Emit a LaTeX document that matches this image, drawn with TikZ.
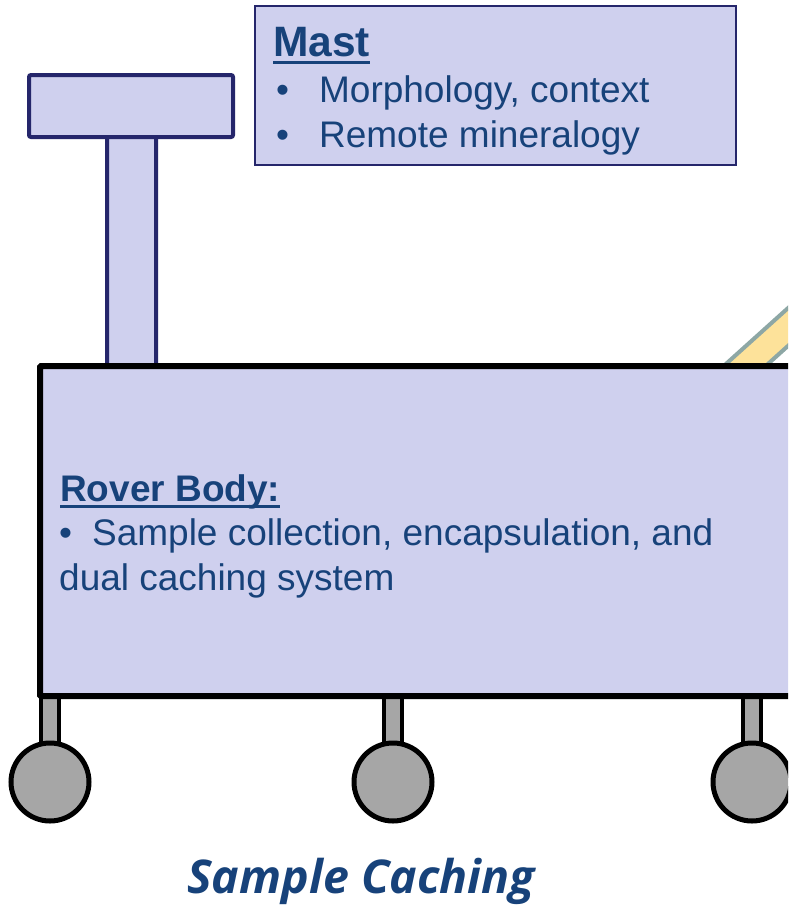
\documentclass[tikz,border=0pt]{standalone}
\usepackage{fontspec}
\setmainfont{Liberation Sans}
\newfontfamily\captionfont{Open Sans}
\usetikzlibrary{positioning}
\definecolor{bodyfill}{HTML}{CFD0EE}
\definecolor{mastline}{HTML}{25266B}
\definecolor{textblue}{HTML}{17427A}
\definecolor{armfill}{HTML}{FDE29A}
\definecolor{armline}{HTML}{8DA7A5}
\definecolor{wheelfill}{HTML}{A6A6A6}

\tikzset{
  mastpart/.style={draw=mastline, fill=bodyfill, line width=4pt, rounded corners=2pt},
  wheel/.style={draw=black, fill=wheelfill, line width=5pt},
  leg/.style={draw=black, fill=wheelfill, line width=4pt},
  bodytext/.style={text=textblue, anchor=base west, inner sep=0pt, font=\fontsize{37}{44}\selectfont},
  uline/.style={draw=textblue, line width=3pt},
}

\begin{document}
\begin{tikzpicture}[x=1pt, y=-1pt]
  \useasboundingbox (0,0) rectangle (788,905);
  \clip (0,0) rectangle (788,905);

  % arm
  \filldraw[draw=armline, fill=armfill, line width=4pt]
    (717,372) -- (867,237) -- (909,237) -- (759,372) -- cycle;

  % mast
  \filldraw[mastpart] (107,130) rectangle (156,370);
  \filldraw[mastpart] (29,75) rectangle (233,137);

  % legs
  \foreach \x in {50,393,752}
    \filldraw[leg] (\x-9,690) rectangle (\x+9,748);

  % rover body
  \filldraw[draw=black, fill=bodyfill, line width=6pt, rounded corners=1pt] (40,366) rectangle (830,696);

  % wheels
  \foreach \x in {50,393,752}
    \filldraw[wheel] (\x,782) circle (39);

  % mast box
  \filldraw[draw=mastline, fill=bodyfill, line width=2pt] (255,6) rectangle (736,165);
  \node[bodytext, font=\fontsize{42.5}{48}\selectfont\bfseries] (masttitle) at (273,56) {Mast};
  \draw[uline] ([yshift=-6pt]masttitle.base west) -- ([yshift=-6pt]masttitle.base east);
  \node[bodytext] (mastone) at (276,102) {\textbullet\hspace{30pt}Morphology, context};
  \node[bodytext] (masttwo) at (276,147) {\textbullet\hspace{30pt}Remote mineralogy};

  % body text
  \node[bodytext, font=\fontsize{37}{44}\selectfont\bfseries] (bodytitle) at (60,501) {Rover Body:};
  \draw[uline] ([yshift=-5pt]bodytitle.base west) -- ([yshift=-5pt]bodytitle.base east);
  \node[bodytext] (bodyone) at (59,545) {\textbullet\hspace{20pt}Sample collection, encapsulation, and};
  \node[bodytext] (bodytwo) at (59,590) {dual caching system};

  % caption
  \node[text=textblue, font=\captionfont\fontsize{46.5}{52}\selectfont\bfseries\itshape] (caption) at (361,881) {Sample Caching};
\end{tikzpicture}
\end{document}
